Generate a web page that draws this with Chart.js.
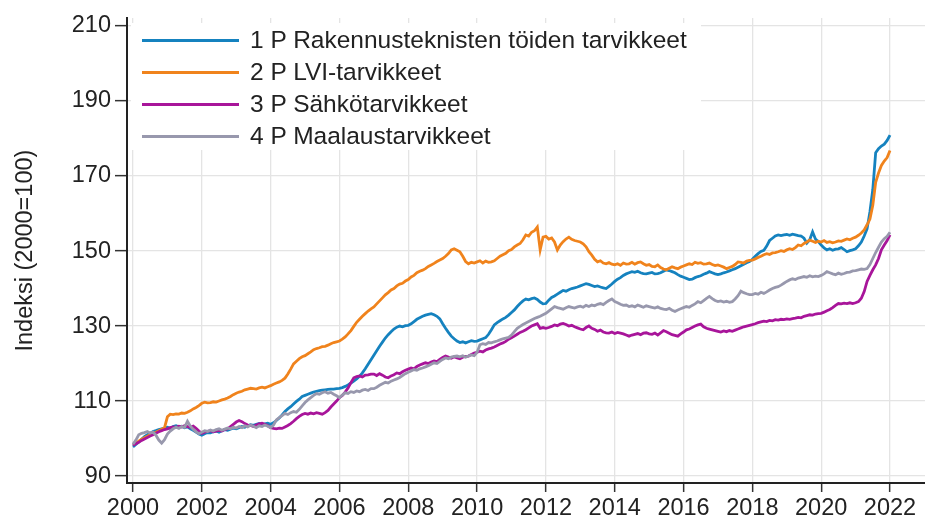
<!DOCTYPE html>
<html><head><meta charset="utf-8">
<script src="https://cdn.jsdelivr.net/npm/chart.js@4/dist/chart.umd.min.js"></script>
<style>
html,body{margin:0;padding:0;background:#fff;}
#wrap{position:relative;width:925px;height:531px;}
#legend{position:absolute;left:131px;top:23px;width:570px;height:127px;background:#fff;font-family:"Liberation Sans",Arial,sans-serif;font-size:24.5px;color:#222;}
.item{position:absolute;left:11px;height:32px;display:flex;align-items:center;white-space:nowrap;}
.sw{width:97px;height:3px;margin-right:11px;}
</style></head><body>
<div id="wrap"><canvas id="c" width="925" height="531"></canvas><div id="legend"></div></div>
<script>
const startYear = 2000;
const seriesNames = ["1 P Rakennusteknisten töiden tarvikkeet","2 P LVI-tarvikkeet","3 P Sähkötarvikkeet","4 P Maalaustarvikkeet"];
const seriesColors = ["#1582bf","#f0831c","#a8159a","#9898ad"];
const xTicks = [2000,2002,2004,2006,2008,2010,2012,2014,2016,2018,2020,2022];
const yTicks = [90,110,130,150,170,190,210];
const yTitle = "Indeksi (2000=100)";

// monthly index values, Jan 2000 .. Jan 2022
const rakennus = [
97.8,98.4,99.1,99.8,100.5,101.0,101.4,101.9,102.1,102.4,102.6,102.8,
103.0,102.7,103.2,103.4,103.1,103.3,102.9,103.1,102.6,102.2,101.7,101.2,
100.9,101.3,101.6,101.5,101.8,102.0,101.7,102.1,102.4,102.2,102.5,102.8,
102.6,102.9,103.2,103.0,103.4,103.7,103.5,103.8,104.0,103.7,103.9,104.1,
103.8,104.2,104.8,105.5,106.3,107.2,107.9,108.5,109.2,109.9,110.5,111.2,
111.5,111.8,112.1,112.4,112.6,112.8,112.9,113.0,113.1,113.2,113.2,113.3,
113.4,113.6,113.9,114.3,114.8,115.3,115.9,116.6,117.5,118.6,119.8,121.0,
122.2,123.4,124.6,125.7,126.8,127.7,128.5,129.2,129.7,130.0,129.8,130.1,
130.2,130.6,131.2,131.8,132.2,132.6,132.9,133.1,133.3,133.0,132.6,131.9,
130.6,129.4,128.3,127.3,126.6,126.0,125.6,125.8,125.5,125.8,126.1,125.9,
126.0,126.3,126.6,126.9,127.8,129.0,130.3,130.9,131.4,131.9,132.3,132.9,
133.6,134.3,135.2,136.0,136.7,137.2,137.0,137.3,137.5,137.1,136.4,135.9,
136.0,136.9,137.6,138.0,138.5,139.0,139.5,139.3,139.7,140.0,140.2,140.4,
140.7,141.0,141.3,141.1,140.8,140.5,140.7,140.4,140.2,140.0,140.6,141.2,
141.9,142.5,142.9,143.5,143.9,144.2,144.5,144.3,144.6,144.2,144.0,143.9,
144.1,144.3,143.9,144.0,144.2,144.6,145.0,144.8,144.5,144.2,143.7,143.3,
143.0,142.7,142.4,142.5,142.9,143.2,143.4,143.8,144.1,144.5,144.2,143.9,
143.7,143.9,144.2,144.4,144.7,145.0,145.3,145.7,146.1,146.5,146.9,147.2,
147.8,148.6,149.3,149.9,150.2,151.3,152.8,153.4,154.0,154.3,154.1,154.3,
154.4,154.2,154.5,154.3,154.1,154.0,153.4,152.1,153.0,155.1,153.2,152.5,
151.6,150.8,150.3,150.6,150.2,150.5,150.6,150.9,150.4,149.8,150.1,150.3,
150.6,151.4,152.4,154.0,155.9,160.5,166.4,176.2,177.3,178.0,178.5,179.5,
180.9];
const lvi = [
98.3,98.8,99.3,99.8,100.2,100.6,101.0,101.3,101.7,102.1,102.5,102.9,
105.8,106.5,106.4,106.6,106.5,106.8,106.7,107.0,107.4,107.9,108.3,108.8,
109.4,109.7,109.5,109.6,109.8,109.7,110.0,110.3,110.5,110.8,111.2,111.7,
112.1,112.4,112.6,113.0,113.2,113.4,113.3,113.2,113.5,113.7,113.5,113.8,
114.1,114.5,114.8,115.1,115.5,116.1,117.2,118.5,119.9,120.6,121.3,121.8,
122.1,122.6,123.1,123.7,124.0,124.2,124.5,124.6,124.9,125.3,125.6,125.8,
126.0,126.5,127.1,127.9,128.8,129.9,131.0,131.8,132.6,133.3,134.0,134.6,
135.1,135.9,136.7,137.5,138.3,138.9,139.6,140.0,140.7,141.2,141.4,142.0,
142.4,143.1,143.5,144.2,144.6,144.9,145.3,145.9,146.3,146.7,147.2,147.6,
148.0,148.6,149.3,150.3,150.6,150.2,149.8,148.6,147.2,146.6,147.0,146.8,
147.1,147.4,146.8,147.3,147.0,147.1,147.4,148.0,148.6,149.0,149.4,150.1,
150.4,151.1,151.6,152.0,153.0,154.3,154.0,155.0,155.4,156.4,150.3,153.7,
153.9,153.2,153.5,152.4,150.3,151.6,152.5,153.2,153.7,153.1,152.8,152.6,
152.4,151.9,151.1,149.8,148.9,147.8,147.1,147.4,146.8,146.6,146.9,146.5,
146.3,146.6,146.2,146.8,146.5,146.6,147.0,146.5,146.9,147.1,146.6,146.2,
146.4,145.9,145.8,146.3,145.6,145.2,145.0,145.4,145.8,145.5,145.3,145.7,
146.0,146.3,146.6,146.4,147.0,146.7,146.9,146.5,146.6,146.8,146.4,146.1,
146.3,146.0,145.7,145.3,145.6,145.9,146.4,147.1,147.0,146.8,147.3,147.5,
147.6,147.9,148.3,148.6,149.0,149.3,149.1,149.5,149.6,149.8,150.1,149.9,
150.3,150.6,150.4,150.9,151.6,151.4,152.0,152.4,152.9,152.6,152.3,152.6,
152.4,152.8,152.3,152.5,152.2,152.4,152.7,152.6,152.9,153.2,153.0,153.4,
153.7,154.2,154.8,155.6,157.0,158.5,162.2,168.3,170.8,172.8,174.0,174.9,
176.8];
const sahko = [
98.2,98.6,99.0,99.5,99.9,100.3,100.7,101.0,101.4,101.8,102.1,102.4,
102.6,102.9,103.1,103.0,103.3,103.1,103.4,103.2,103.0,103.3,102.7,102.0,
101.4,101.7,101.9,102.1,101.8,102.0,102.2,102.0,102.4,102.6,103.2,103.8,
104.4,104.8,104.5,104.0,103.6,103.5,103.2,103.6,103.9,104.1,103.8,103.4,
102.9,102.7,102.6,102.8,102.7,103.1,103.5,104.0,104.6,105.3,105.9,106.4,
106.7,106.5,106.8,106.6,106.9,106.7,106.5,106.9,107.5,108.4,109.2,110.0,
110.9,111.5,112.4,113.5,114.9,116.2,116.5,116.7,116.4,116.9,117.0,117.2,
117.2,116.8,117.3,116.9,116.4,116.2,116.7,117.0,117.5,117.3,117.8,118.2,
118.5,118.8,118.6,119.2,119.6,119.9,120.2,120.0,120.4,120.7,120.5,121.1,
121.6,122.0,121.7,121.4,121.8,121.5,121.3,121.7,121.9,122.0,122.4,122.8,
123.0,123.3,123.1,123.6,123.9,124.1,124.4,124.8,125.2,125.5,125.9,126.5,
126.9,127.3,127.8,128.3,128.6,129.0,129.5,130.0,130.3,130.6,129.4,129.6,
129.4,129.6,129.9,130.3,130.1,130.5,130.7,130.4,130.0,130.2,129.8,129.5,
129.2,129.0,129.6,130.0,129.4,129.1,128.6,128.9,128.4,128.2,128.1,128.4,
128.0,128.3,128.1,127.9,127.6,127.3,127.6,127.8,128.0,127.7,128.1,128.2,
127.9,127.8,128.1,127.6,128.2,128.8,128.5,128.1,127.7,127.5,127.3,127.9,
128.4,129.0,129.2,129.6,130.0,130.3,130.5,129.8,129.4,129.2,129.0,128.8,
128.6,128.4,128.7,128.5,128.8,128.6,128.9,129.2,129.5,129.8,130.0,130.2,
130.4,130.6,130.9,131.1,131.3,131.2,131.5,131.4,131.7,131.6,131.8,131.7,
131.9,131.8,132.0,132.1,132.3,132.2,132.6,132.8,133.0,132.9,133.2,133.3,
133.4,133.7,134.1,134.4,134.9,135.5,136.0,135.9,136.1,136.0,136.2,136.0,
136.2,136.5,137.4,139.2,141.9,143.5,145.0,146.3,148.0,150.3,151.6,152.8,
154.3];
const maalaus = [
98.5,99.6,101.0,101.4,101.6,101.9,101.5,101.7,100.9,99.6,98.8,99.7,
101.2,102.0,102.6,103.0,102.7,103.2,103.0,104.6,103.3,102.5,101.8,101.3,
101.7,102.1,101.9,102.3,102.0,102.4,102.6,102.2,102.5,102.8,102.6,103.0,
102.8,103.2,102.9,103.4,103.1,103.6,103.3,102.9,103.4,103.2,103.6,103.3,
102.9,103.6,105.0,105.6,106.1,106.7,106.4,106.9,107.2,107.0,107.8,108.7,
109.6,110.3,110.9,111.5,112.0,111.8,112.2,112.5,112.1,112.3,111.8,111.4,
110.9,111.6,112.2,112.0,112.5,112.3,112.7,112.5,112.9,113.1,112.8,113.3,
113.3,113.7,114.2,114.6,115.0,114.8,115.3,115.6,115.9,116.3,116.8,117.3,
117.7,118.0,118.4,118.2,118.6,118.8,119.1,119.4,119.8,120.2,120.0,120.6,
121.1,121.5,121.3,121.7,121.9,122.0,121.8,122.1,121.7,122.0,122.3,122.1,
123.0,125.0,125.3,125.1,125.6,125.5,125.8,126.0,126.3,126.6,126.8,127.0,
127.6,128.5,129.4,129.9,130.4,130.8,131.2,131.6,132.0,132.3,132.6,133.0,
133.4,134.0,134.6,135.2,134.9,134.7,134.5,134.9,135.2,135.0,134.8,135.1,
135.3,135.0,135.5,135.2,135.6,135.4,135.8,136.0,135.7,136.3,136.8,137.2,
136.5,136.2,135.8,135.5,135.6,135.2,135.4,135.1,135.6,135.3,135.0,135.4,
135.2,135.0,134.8,135.1,134.7,134.5,134.4,134.7,134.2,133.9,134.3,134.6,
134.9,135.2,135.0,135.5,135.9,136.5,136.2,136.8,137.4,137.9,137.3,136.8,
136.5,136.7,136.4,136.6,136.3,136.5,137.2,138.1,139.3,138.9,138.6,138.4,
138.4,138.7,138.5,139.0,138.7,139.1,139.6,140.0,140.3,140.5,140.9,141.4,
141.9,142.3,142.6,142.4,142.8,143.0,143.2,143.0,143.4,143.1,143.3,143.2,
143.5,143.9,144.5,144.2,143.9,143.7,144.1,143.8,144.0,144.3,144.4,144.7,
144.8,145.0,145.2,145.1,145.3,146.4,148.0,149.6,151.0,152.4,153.3,153.9,
155.0];

const seriesValues = [rakennus, lvi, sahko, maalaus];
const FONT = '"Liberation Sans", Arial, sans-serif';

const datasets = seriesValues.map((vals, i) => ({
  label: seriesNames[i],
  data: vals.map((v, m) => ({x: startYear + m / 12, y: v})),
  borderColor: seriesColors[i],
  backgroundColor: seriesColors[i],
  borderWidth: 2.8,
  pointRadius: 0,
  tension: 0,
  fill: false,
  order: 4 - i
}));

// HTML legend
const leg = document.getElementById('legend');
seriesNames.forEach((n, i) => {
  const d = document.createElement('div');
  d.className = 'item';
  d.style.top = (1 + i * 32) + 'px';
  d.innerHTML = '<span class="sw" style="background:' + seriesColors[i] + '"></span><span>' + n + '</span>';
  leg.appendChild(d);
});

new Chart(document.getElementById('c'), {
  type: 'line',
  data: {datasets},
  options: {
    responsive: false,
    animation: false,
    devicePixelRatio: 1,
    layout: {padding: {top: 14, right: 0, left: 0, bottom: 0}},
    plugins: {legend: {display: false}, tooltip: {enabled: false}},
    scales: {
      x: {
        type: 'linear', min: 1999.826, max: 2023.017,
        afterBuildTicks: s => { s.ticks = xTicks.map(v => ({value: v})); },
        afterFit: s => { s.height = 48; },
        grid: {color: '#e4e4e4', lineWidth: 1.3, tickColor: '#333', tickLength: 9, tickWidth: 1.5},
        border: {color: '#222', width: 2},
        ticks: {font: {family: FONT, size: 23.5}, color: '#222', padding: 2, maxRotation: 0, autoSkip: false, callback: v => String(v)}
      },
      y: {
        min: 88.15, max: 212.1,
        afterBuildTicks: s => { s.ticks = yTicks.map(v => ({value: v})); },
        afterFit: s => { s.width = 127; },
        grid: {color: '#e4e4e4', lineWidth: 1.3, tickColor: '#333', tickLength: 12, tickWidth: 1.5},
        border: {color: '#222', width: 2},
        ticks: {font: {family: FONT, size: 23.5}, color: '#222', padding: 4, callback: v => String(v)},
        title: {display: true, text: yTitle, font: {family: FONT, size: 23.5}, color: '#222', padding: {top: 11, bottom: 0}}
      }
    }
  }
});
</script>
</body></html>
